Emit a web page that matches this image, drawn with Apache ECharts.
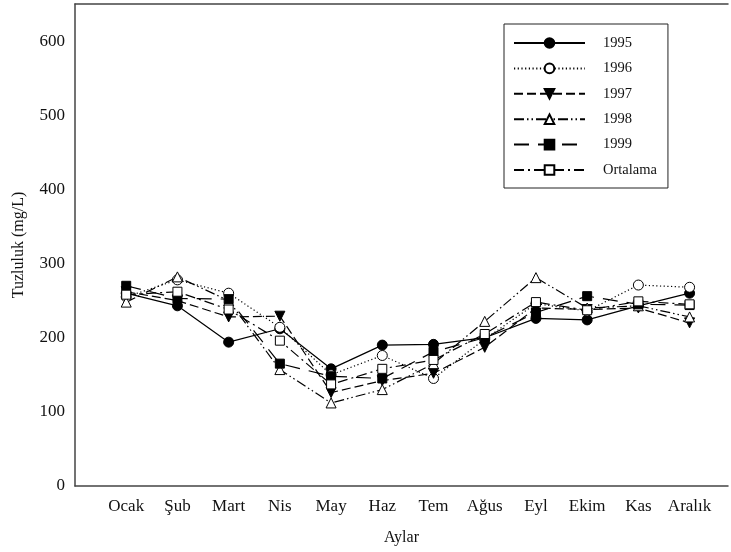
<!DOCTYPE html>
<html><head><meta charset="utf-8">
<script src="https://cdn.jsdelivr.net/npm/echarts@6/dist/echarts.min.js"></script>
<style>html,body{margin:0;padding:0;background:#fff}#c{width:731px;height:552px}</style>
</head><body><div id="c"></div>
<script>
const months = ['Ocak','Şub','Mart','Nis','May','Haz','Tem','Ağus','Eyl','Ekim','Kas','Aralık'];
const y1995    = [260, 243, 194, 212, 158, 190, 191, 200, 226, 224, 243, 260];
const y1996    = [255, 278, 260, 214, 150, 176, 145, 198, 246, 236, 271, 268];
const y1997    = [262, 250, 228, 229, 126, 142, 152, 187, 240, 238, 240, 220];
const y1998    = [248, 282, 250, 157, 112, 130, 165, 222, 281, 240, 243, 228];
const y1999    = [270, 253, 252, 165, 148, 145, 181, 200, 234, 256, 245, 244];
const ortalama = [258, 262, 238, 196, 137, 158, 170, 205, 248, 237, 249, 245];
const yTickValues = [0, 100, 200, 300, 400, 500, 600];

const FONT = 'Liberation Serif';
const toPts = arr => arr.map((v, i) => [i + 1, v]);
const filled = { color: '#000', borderColor: '#000', borderWidth: 1 };
const hollow = { color: '#fff', borderColor: '#000', borderWidth: 1 };

function mk(name, arr, symbol, size, item, dash, rotate) {
  return {
    name, type: 'line', data: toPts(arr), symbol, symbolSize: size,
    symbolRotate: rotate || 0,
    itemStyle: item,
    lineStyle: { color: '#000', width: 1.2, type: dash },
    showAllSymbol: true, animation: false
  };
}

const chart = echarts.init(document.getElementById('c'), null, { renderer: 'canvas' });
const xAxisBase = {
  type: 'value', min: 0, max: 12.75, interval: 1,
  axisTick: { show: false }, splitLine: { show: false },
  axisLine: { show: true, lineStyle: { color: '#444', width: 1.5 } }
};
chart.setOption({
  backgroundColor: '#fff',
  animation: false,
  textStyle: { fontFamily: FONT, color: '#111' },
  grid: { left: 75, right: 0, top: 4, bottom: 66 },
  legend: {
    orient: 'vertical', left: 504, top: 24,
    padding: [11.5, 11, 10.5, 9], itemGap: 10.4, itemWidth: 71, itemHeight: 12,
    borderColor: '#222', borderWidth: 1, backgroundColor: '#fff',
    textStyle: { fontFamily: FONT, fontSize: 14.5, color: '#111', padding: [0, 0, 0, 13] },
    data: ['1995', '1996', '1997', '1998', '1999', 'Ortalama']
  },
  xAxis: [
    Object.assign({}, xAxisBase, {
      position: 'bottom',
      name: 'Aylar', nameLocation: 'middle', nameGap: 44,
      nameTextStyle: { fontFamily: FONT, fontSize: 16, color: '#111' },
      axisLabel: {
        margin: 12, fontFamily: FONT, fontSize: 17, color: '#111',
        formatter: v => (Number.isInteger(v) && v >= 1 && v <= 12) ? months[v - 1] : ''
      }
    }),
    Object.assign({}, xAxisBase, { position: 'top', axisLabel: { show: false } })
  ],
  yAxis: {
    type: 'value', min: 0, max: 650, interval: 100,
    axisTick: { show: false }, splitLine: { show: false },
    axisLine: { show: true, lineStyle: { color: '#444', width: 1.5 } },
    name: 'Tuzluluk (mg/L)', nameLocation: 'middle', nameGap: 48,
    nameTextStyle: { fontFamily: FONT, fontSize: 16, color: '#111' },
    axisLabel: {
      margin: 10, fontFamily: FONT, fontSize: 17, color: '#111', showMaxLabel: false,
      formatter: v => yTickValues.includes(v) ? String(v) : ''
    }
  },
  series: [
    mk('1995', y1995, 'circle', 10, filled, 'solid'),
    mk('1996', y1996, 'circle', 10, hollow, [1.2, 2.5]),
    mk('1997', y1997, 'triangle', 10, filled, [9, 4], 180),
    mk('1998', y1998, 'triangle', 10, hollow, [10, 3, 1.5, 3, 1.5, 3]),
    mk('1999', y1999, 'rect', 9, filled, [15, 9]),
    mk('Ortalama', ortalama, 'rect', 9, hollow, [10, 4, 2, 4])
  ]
});
</script>
</body></html>
